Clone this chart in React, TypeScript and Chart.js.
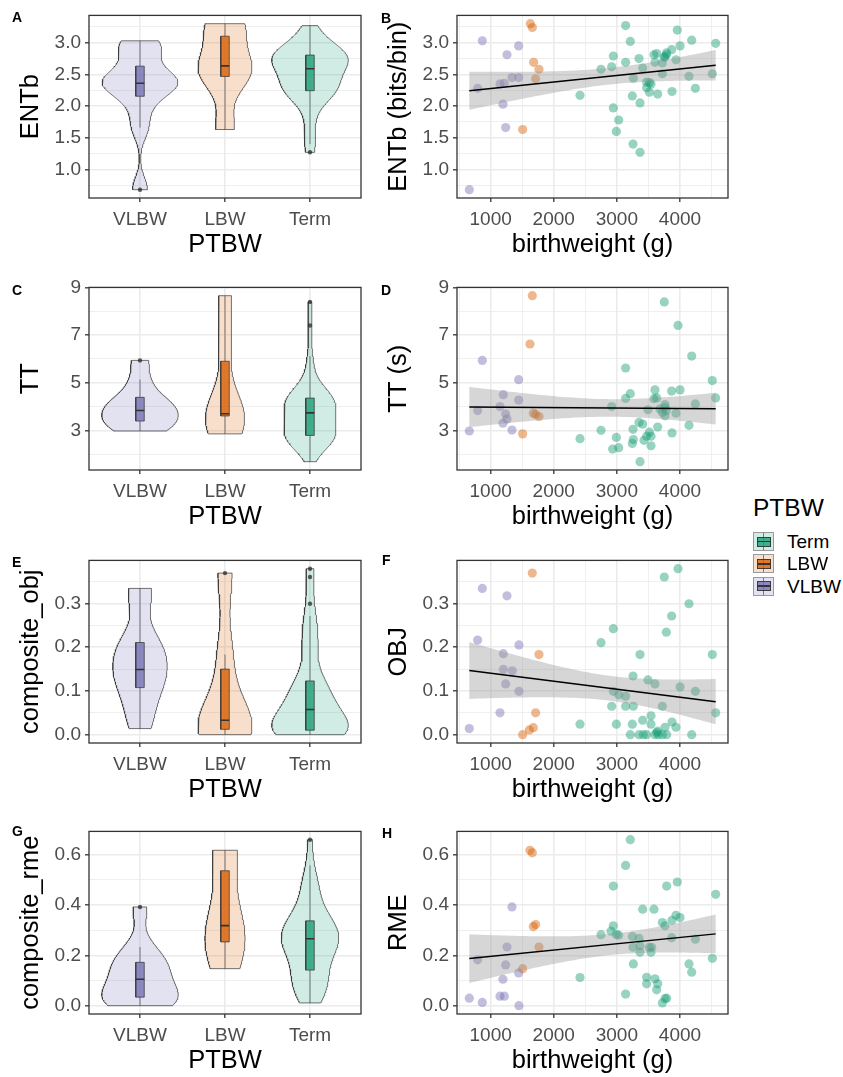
import React, { useEffect, useRef } from "react";
import { Chart, registerables } from "chart.js";

Chart.register(...registerables);

const FONT = "'Liberation Sans', Arial, Helvetica, sans-serif";
Chart.defaults.font.family = FONT;

// ---------------- data ----------------
const groups = ["VLBW", "LBW", "Term"];
const groupColors = ["#7570B3", "#D95F02", "#1B9E77"];
const legendOrder = ["Term", "LBW", "VLBW"];
const groupTitle = "PTBW";
const bwTitle = "birthweight (g)";

// [birthweight (g), value]
const entbVLBW = [[662, 0.68], [794, 2.28], [868, 3.03], [1148, 2.35], [1195, 2.03], [1217, 2.36], [1238, 1.66], [1259, 2.81], [1338, 2.45], [1444, 2.95], [1444, 2.45]];
const entbLBW = [[1507, 1.63], [1629, 3.3], [1660, 3.24], [1681, 2.69], [1713, 2.43], [1766, 2.58]];
const entbTerm = [[2416, 2.17], [2749, 2.58], [2918, 2.62], [2944, 2.79], [2944, 1.97], [2992, 1.6], [3029, 1.78], [3139, 2.69], [3139, 3.27], [3213, 3.02], [3256, 1.4], [3245, 2.16], [3261, 2.44], [3351, 2.75], [3367, 2.05], [3367, 1.27], [3409, 2.6], [3472, 2.38], [3472, 2.29], [3515, 2.22], [3515, 2.37], [3541, 2.35], [3588, 2.81], [3604, 2.69], [3631, 2.83], [3647, 2.19], [3721, 2.68], [3721, 2.51], [3763, 2.78], [3784, 2.81], [3789, 2.84], [3752, 2.77], [3868, 2.89], [3874, 2.23], [3937, 2.73], [3958, 3.2], [4001, 2.95], [4143, 2.47], [4186, 3.04], [4244, 2.28], [4513, 2.51], [4566, 2.99]];

const ttVLBW = [[662, 2.97], [794, 3.83], [868, 5.94], [1148, 4.0], [1195, 3.3], [1201, 4.5], [1238, 3.69], [1259, 3.48], [1338, 3.01], [1444, 5.13], [1444, 4.27]];
const ttLBW = [[1507, 2.85], [1623, 6.63], [1660, 8.66], [1676, 3.72], [1713, 3.67], [1766, 3.58]];
const ttTerm = [[2416, 2.65], [2749, 3.0], [2918, 4.0], [2933, 2.21], [2992, 2.7], [3029, 2.27], [3139, 4.34], [3139, 5.62], [3213, 4.54], [3245, 2.45], [3256, 3.04], [3261, 2.61], [3351, 3.33], [3367, 1.68], [3409, 3.26], [3430, 2.58], [3472, 2.75], [3493, 3.86], [3515, 2.92], [3541, 2.75], [3541, 2.35], [3588, 4.33], [3604, 4.7], [3631, 4.36], [3647, 3.14], [3721, 3.75], [3752, 8.4], [3763, 4.08], [3763, 3.61], [3784, 3.83], [3868, 4.65], [3874, 2.89], [3937, 3.72], [3969, 7.41], [4001, 4.7], [4143, 3.21], [4186, 6.12], [4244, 4.11], [4513, 5.09], [4566, 4.36], [3684, 3.9], [3763, 3.97]];

const objVLBW = [[662, 0.014], [794, 0.216], [868, 0.334], [1148, 0.05], [1201, 0.185], [1201, 0.149], [1238, 0.116], [1259, 0.317], [1343, 0.146], [1449, 0.205], [1449, 0.099]];
const objLBW = [[1507, 0.0], [1613, 0.011], [1660, 0.369], [1676, 0.016], [1713, 0.05], [1766, 0.183]];
const objTerm = [[2416, 0.024], [2749, 0.21], [2918, 0.065], [2944, 0.242], [2944, 0.099], [2992, 0.024], [3029, 0.091], [3139, 0.088], [3139, 0.065], [3213, 0.0], [3245, 0.024], [3256, 0.134], [3261, 0.065], [3351, 0.0], [3367, 0.183], [3409, 0.033], [3419, 0.0], [3472, 0.0], [3493, 0.125], [3541, 0.043], [3541, 0.024], [3604, 0.116], [3604, 0.0], [3631, 0.005], [3647, 0.008], [3657, 0.0], [3721, 0.065], [3721, 0.0], [3752, 0.36], [3763, 0.017], [3784, 0.234], [3789, 0.0], [3868, 0.271], [3874, 0.029], [3937, 0.017], [3969, 0.379], [4001, 0.109], [4143, 0.299], [4186, 0.0], [4244, 0.099], [4513, 0.183], [4566, 0.05]];

const rmeVLBW = [[662, 0.03], [794, 0.182], [868, 0.013], [1148, 0.038], [1195, 0.105], [1217, 0.038], [1238, 0.162], [1259, 0.233], [1338, 0.392], [1444, 0.13], [1449, 0.0]];
const rmeLBW = [[1507, 0.147], [1623, 0.617], [1660, 0.607], [1676, 0.314], [1713, 0.322], [1766, 0.233]];
const rmeTerm = [[2416, 0.112], [2749, 0.282], [2907, 0.296], [2944, 0.317], [2944, 0.475], [2992, 0.283], [3029, 0.28], [3139, 0.046], [3139, 0.557], [3213, 0.659], [3245, 0.275], [3256, 0.232], [3261, 0.166], [3351, 0.267], [3367, 0.212], [3409, 0.383], [3472, 0.113], [3472, 0.087], [3515, 0.232], [3541, 0.212], [3588, 0.383], [3604, 0.107], [3631, 0.063], [3647, 0.087], [3721, 0.33], [3721, 0.011], [3763, 0.028], [3789, 0.03], [3789, 0.475], [3763, 0.317], [3868, 0.27], [3874, 0.339], [3937, 0.359], [3958, 0.491], [4001, 0.35], [4143, 0.166], [4186, 0.133], [4244, 0.264], [4513, 0.188], [4566, 0.442], [3367, 0.238], [3552, 0.232]];

// tick labels
const entbTicks = [1.0, 1.5, 2.0, 2.5, 3.0];
const ttTicks = [3, 5, 7, 9];
const objTicks = [0.0, 0.1, 0.2, 0.3];
const rmeTicks = [0.0, 0.2, 0.4, 0.6];
const bwTicks = [1000, 2000, 3000, 4000];

// ---------------- style / layout ----------------
const COLS = [{ left: 0, width: 368 }, { left: 368, width: 367 }];
const ROW_TOPS = [0, 272, 545, 816];
const CANVAS_H = 264;
const Y_AXIS_W = 89;
const X_AXIS_H = 66;
const GRID = "#EBEBEB";
const TICK_TEXT = "#4D4D4D";
const DARK = "#333333";
const TICK_FONT = 19;
const TITLE_FONT = 25.5;

type Pts = number[][];
interface PanelSpec {
  id: string;
  kind: "violin" | "scatter";
  row: number;
  col: number;
  yTitle: string;
  data: Pts[];
  majors: number[];
  decimals: number;
}

const panels: PanelSpec[] = [
  { id: "A", kind: "violin", row: 0, col: 0, yTitle: "ENTb", data: [entbVLBW, entbLBW, entbTerm], majors: entbTicks, decimals: 1 },
  { id: "B", kind: "scatter", row: 0, col: 1, yTitle: "ENTb (bits/bin)", data: [entbVLBW, entbLBW, entbTerm], majors: entbTicks, decimals: 1 },
  { id: "C", kind: "violin", row: 1, col: 0, yTitle: "TT", data: [ttVLBW, ttLBW, ttTerm], majors: ttTicks, decimals: 0 },
  { id: "D", kind: "scatter", row: 1, col: 1, yTitle: "TT (s)", data: [ttVLBW, ttLBW, ttTerm], majors: ttTicks, decimals: 0 },
  { id: "E", kind: "violin", row: 2, col: 0, yTitle: "composite_obj", data: [objVLBW, objLBW, objTerm], majors: objTicks, decimals: 1 },
  { id: "F", kind: "scatter", row: 2, col: 1, yTitle: "OBJ", data: [objVLBW, objLBW, objTerm], majors: objTicks, decimals: 1 },
  { id: "G", kind: "violin", row: 3, col: 0, yTitle: "composite_rme", data: [rmeVLBW, rmeLBW, rmeTerm], majors: rmeTicks, decimals: 1 },
  { id: "H", kind: "scatter", row: 3, col: 1, yTitle: "RME", data: [rmeVLBW, rmeLBW, rmeTerm], majors: rmeTicks, decimals: 1 },
];

const letterPos: Record<string, [number, number]> = {
  A: [12, 10], B: [381, 11], C: [12, 283], D: [381, 283],
  E: [12, 555], F: [382, 553], G: [12, 824], H: [382, 826],
};

// ---------------- helpers ----------------
function rgba(hex: string, a: number) {
  const n = parseInt(hex.slice(1), 16);
  return `rgba(${(n >> 16) & 255},${(n >> 8) & 255},${n & 255},${a})`;
}
function q7(s: number[], p: number) {
  const h = (s.length - 1) * p;
  const lo = Math.floor(h);
  const hi = Math.min(lo + 1, s.length - 1);
  return s[lo] + (h - lo) * (s[hi] - s[lo]);
}
function sd(v: number[]) {
  const m = v.reduce((a, b) => a + b, 0) / v.length;
  return Math.sqrt(v.reduce((a, b) => a + (b - m) * (b - m), 0) / (v.length - 1));
}
function bwNrd0(s: number[]) {
  const hi = sd(s);
  let lo = Math.min(hi, (q7(s, 0.75) - q7(s, 0.25)) / 1.34);
  if (!(lo > 0)) lo = hi || Math.abs(s[0]) || 1;
  return 0.9 * lo * Math.pow(s.length, -0.2);
}
function kde(s: number[], bw: number, y: number) {
  let sum = 0;
  for (const v of s) {
    const z = (y - v) / bw;
    sum += Math.exp(-0.5 * z * z);
  }
  return sum / (s.length * bw * Math.sqrt(2 * Math.PI));
}
function boxStats(s: number[]) {
  const q1 = q7(s, 0.25), med = q7(s, 0.5), q3 = q7(s, 0.75);
  const iqr = q3 - q1;
  const lf = q1 - 1.5 * iqr, uf = q3 + 1.5 * iqr;
  const inside = s.filter((v) => v >= lf && v <= uf);
  return { q1, med, q3, lo: inside[0], hi: inside[inside.length - 1], outliers: s.filter((v) => v < lf || v > uf) };
}
function linearFit(pts: Pts) {
  const n = pts.length;
  const mx = pts.reduce((a, p) => a + p[0], 0) / n;
  const my = pts.reduce((a, p) => a + p[1], 0) / n;
  let sxx = 0, sxy = 0;
  for (const [x, y] of pts) { sxx += (x - mx) ** 2; sxy += (x - mx) * (y - my); }
  const b = sxy / sxx, a = my - b * mx;
  let sse = 0;
  for (const [x, y] of pts) sse += (y - a - b * x) ** 2;
  const s2 = sse / (n - 2);
  const df = n - 2, z = 1.959964;
  const t = z + (z ** 3 + z) / (4 * df) + (5 * z ** 5 + 16 * z ** 3 + 3 * z) / (96 * df * df);
  return { a, b, half: (x: number) => t * Math.sqrt(s2 * (1 / n + (x - mx) ** 2 / sxx)) };
}
function expandRange(vals: number[]) {
  const lo = Math.min(...vals), hi = Math.max(...vals);
  const r = hi - lo;
  return [lo - 0.05 * r, hi + 0.05 * r];
}
const near = (a: number, b: number) => Math.abs(a - b) < 1e-9;
const isMajor = (majors: number[], v: number) => majors.some((m) => near(m, v));
function tickSet(majors: number[], min: number, max: number) {
  const step = majors[1] - majors[0];
  const vals = [...majors, ...majors.map((m) => m - step / 2), majors[majors.length - 1] + step / 2];
  return vals.map((v) => Math.round(v * 1e9) / 1e9).filter((v) => v >= min && v <= max).sort((a, b) => a - b);
}

const borderPlugin = {
  id: "panelBorder",
  afterDatasetsDraw(chart: any) {
    const { ctx, chartArea } = chart;
    ctx.save();
    ctx.strokeStyle = DARK;
    ctx.lineWidth = 1.3;
    ctx.strokeRect(chartArea.left, chartArea.top, chartArea.right - chartArea.left, chartArea.bottom - chartArea.top);
    ctx.restore();
  },
};

function axisTitle(text: string, isY: boolean) {
  return {
    display: true,
    text,
    color: "#000000",
    font: { family: FONT, size: TITLE_FONT },
    padding: isY ? { top: 15.7, bottom: 0 } : { top: 0, bottom: 3.7 },
  };
}

function linScale(majors: number[], min: number, max: number, fmt: (v: number) => string, isY: boolean, title: string, minorLines: boolean) {
  const all = minorLines ? tickSet(majors, min, max) : majors.slice();
  return {
    type: "linear",
    min,
    max,
    afterBuildTicks: (s: any) => { s.ticks = all.map((v) => ({ value: v })); },
    afterFit: (s: any) => { if (isY) s.width = Y_AXIS_W; else s.height = X_AXIS_H; },
    ticks: {
      autoSkip: false,
      maxRotation: 0,
      minRotation: 0,
      color: TICK_TEXT,
      font: { family: FONT, size: TICK_FONT },
      padding: isY ? 4 : 6,
      callback: (v: any) => (isMajor(majors, Number(v)) ? fmt(Number(v)) : ""),
    },
    grid: {
      color: GRID,
      lineWidth: (c: any) => (c.tick && !isMajor(majors, c.tick.value) ? 0.8 : 1.6),
      tickLength: 4,
      tickWidth: 1.3,
      tickColor: (c: any) => (c.tick && !isMajor(majors, c.tick.value) ? "rgba(0,0,0,0)" : DARK),
    },
    border: { display: false },
    title: axisTitle(title, isY),
  };
}

function buildConfig(spec: PanelSpec): any {
  const ys = spec.data.flat().map((p) => p[1]);
  const [ymin, ymax] = expandRange(ys);
  const yFmt = (v: number) => v.toFixed(spec.decimals);
  const datasets: any[] = [];
  let xScale: any;

  if (spec.kind === "violin") {
    const cats = groups.map((_, i) => i + 1);
    xScale = linScale(cats, 0.4, groups.length + 0.6, (v) => groups[Math.round(v) - 1] ?? "", false, groupTitle, false);
    const N = 160;
    const dens = spec.data.map((pts) => {
      const s = pts.map((p) => p[1]).sort((a, b) => a - b);
      const bw = bwNrd0(s);
      const grid = Array.from({ length: N }, (_, k) => s[0] + ((s[s.length - 1] - s[0]) * k) / (N - 1));
      return { s, grid, d: grid.map((y) => kde(s, bw, y)) };
    });
    const dmax = Math.max(...dens.map((g) => Math.max(...g.d)));
    dens.forEach((g, gi) => {
      const c = gi + 1;
      const col = groupColors[gi];
      const right = g.grid.map((y, k) => ({ x: c + (0.45 * g.d[k]) / dmax, y }));
      const left = g.grid.map((y, k) => ({ x: c - (0.45 * g.d[k]) / dmax, y })).reverse();
      const poly = [...right, ...left, right[0]];
      datasets.push({ data: poly, fill: "shape", backgroundColor: rgba(col, 0.2), borderColor: "rgba(51,51,51,0.85)", borderWidth: 0.8, pointRadius: 0, order: 5 });
      const b = boxStats(g.s);
      const hw = 0.05;
      datasets.push({ data: [{ x: c, y: b.lo }, { x: c, y: b.q1 }, { x: c, y: null }, { x: c, y: b.q3 }, { x: c, y: b.hi }], borderColor: "rgba(51,51,51,0.6)", borderWidth: 1, pointRadius: 0, spanGaps: false, order: 4 });
      datasets.push({ data: [{ x: c - hw, y: b.q1 }, { x: c + hw, y: b.q1 }, { x: c + hw, y: b.q3 }, { x: c - hw, y: b.q3 }, { x: c - hw, y: b.q1 }], fill: "shape", backgroundColor: rgba(col, 0.8), borderColor: "rgba(51,51,51,0.9)", borderWidth: 0.8, pointRadius: 0, order: 3 });
      datasets.push({ data: [{ x: c - hw, y: b.med }, { x: c + hw, y: b.med }], borderColor: DARK, borderWidth: 1.6, pointRadius: 0, order: 2 });
      if (b.outliers.length) {
        datasets.push({ data: b.outliers.map((y) => ({ x: c, y })), showLine: false, pointRadius: 2.2, pointBorderWidth: 0, pointBackgroundColor: "rgba(40,40,40,0.75)", order: 1 });
      }
    });
  } else {
    const all = spec.data.flat();
    const [xmin, xmax] = expandRange(all.map((p) => p[0]));
    xScale = linScale(bwTicks, xmin, xmax, (v) => String(v), false, bwTitle, true);
    spec.data.forEach((pts, gi) => {
      datasets.push({ data: pts.map(([x, y]) => ({ x, y })), showLine: false, pointRadius: 4.6, pointBorderWidth: 0, pointBackgroundColor: rgba(groupColors[gi], 0.45), order: 3 });
    });
    const fit = linearFit(all);
    const x0 = Math.min(...all.map((p) => p[0])), x1 = Math.max(...all.map((p) => p[0]));
    const K = 80;
    const gx = Array.from({ length: K }, (_, k) => x0 + ((x1 - x0) * k) / (K - 1));
    const upper = gx.map((x) => ({ x, y: fit.a + fit.b * x + fit.half(x) }));
    const lower = gx.map((x) => ({ x, y: fit.a + fit.b * x - fit.half(x) })).reverse();
    datasets.push({ data: [...upper, ...lower], fill: "shape", backgroundColor: "rgba(153,153,153,0.4)", borderWidth: 0, pointRadius: 0, order: 2 });
    datasets.push({ data: [{ x: x0, y: fit.a + fit.b * x0 }, { x: x1, y: fit.a + fit.b * x1 }], borderColor: "#000000", borderWidth: 1.5, pointRadius: 0, order: 1 });
  }

  return {
    type: "line",
    data: { datasets: datasets.map((d) => ({ tension: 0, pointHitRadius: 0, pointHoverRadius: 0, ...d })) },
    options: {
      animation: false,
      responsive: false,
      events: [],
      layout: { padding: { top: 14, right: 7, left: 0, bottom: 0 } },
      plugins: { legend: { display: false }, tooltip: { enabled: false }, title: { display: false } },
      scales: {
        x: xScale,
        y: linScale(spec.majors, ymin, ymax, yFmt, true, spec.yTitle, true),
      },
    },
    plugins: [borderPlugin],
  };
}

function Panel({ spec }: { spec: PanelSpec }) {
  const ref = useRef<HTMLCanvasElement>(null);
  useEffect(() => {
    const chart = new Chart(ref.current as HTMLCanvasElement, buildConfig(spec));
    return () => chart.destroy();
  }, [spec]);
  const col = COLS[spec.col];
  return (
    <canvas
      ref={ref}
      width={col.width}
      height={CANVAS_H}
      style={{ position: "absolute", left: col.left, top: ROW_TOPS[spec.row], width: col.width, height: CANVAS_H }}
    />
  );
}

function LegendKey({ color }: { color: string }) {
  return (
    <div style={{ position: "absolute", left: 0, top: 0, width: 21, height: 19, boxSizing: "border-box", border: "1px solid #9a9a9a", background: rgba(color, 0.2) }}>
      <div style={{ position: "absolute", left: 9, top: 0, width: 1, height: 17, background: "rgba(51,51,51,0.6)" }} />
      <div style={{ position: "absolute", left: 2.5, top: 3.5, width: 14, height: 10, boxSizing: "border-box", border: "1px solid rgba(51,51,51,0.9)", background: rgba(color, 0.8) }}>
        <div style={{ position: "absolute", left: 0, right: 0, top: 3.2, height: 1.6, background: DARK }} />
      </div>
    </div>
  );
}

export default function App() {
  return (
    <div style={{ position: "absolute", left: 0, top: 0, width: 843, height: 1077, overflow: "hidden", background: "#ffffff", fontFamily: FONT }}>
      {panels.map((p) => (
        <Panel key={p.id} spec={p} />
      ))}
      {panels.map((p) => (
        <div key={"l" + p.id} style={{ position: "absolute", left: letterPos[p.id][0], top: letterPos[p.id][1], fontSize: 14, lineHeight: "14px", fontWeight: "bold", color: "#000" }}>
          {p.id}
        </div>
      ))}
      <div style={{ position: "absolute", left: 753, top: 493, fontSize: 24.5, lineHeight: "30px", color: "#000" }}>{groupTitle}</div>
      {legendOrder.map((g, i) => {
        const gi = groups.indexOf(g);
        const top = 532 + i * 22.4;
        return (
          <React.Fragment key={g}>
            <div style={{ position: "absolute", left: 753, top, width: 21, height: 19 }}>
              <LegendKey color={groupColors[gi]} />
            </div>
            <div style={{ position: "absolute", left: 787, top, fontSize: 19, lineHeight: "19px", color: "#000" }}>{g}</div>
          </React.Fragment>
        );
      })}
    </div>
  );
}
